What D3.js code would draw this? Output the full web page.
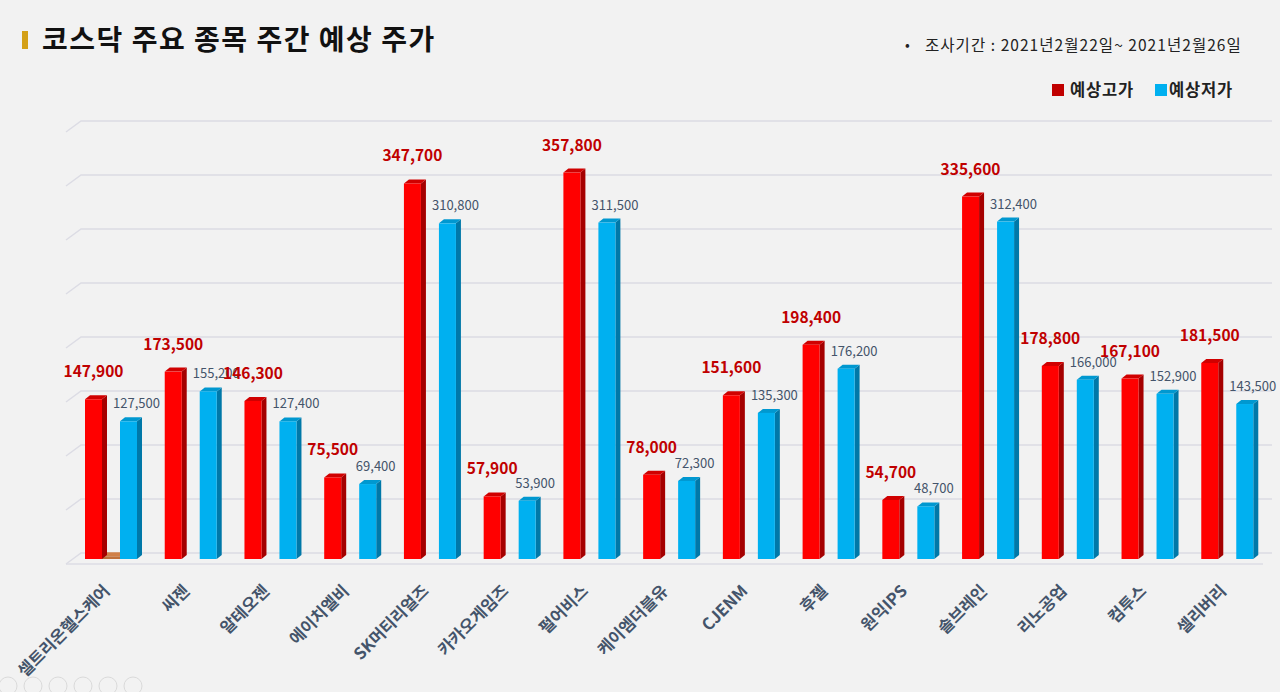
<!DOCTYPE html>
<html><head><meta charset="utf-8">
<script src="https://cdn.jsdelivr.net/npm/d3@7"></script>
<style>
html,body{margin:0;padding:0;background:#f2f2f2;}
svg{display:block;font-family:"Noto Sans CJK KR","Noto Sans",sans-serif;}
</style></head>
<body>
<svg id="chart" width="1280" height="692"></svg>
<script>
const categories = ["셀트리온헬스케어","씨젠","알테오젠","에이치엘비","SK머티리얼즈","카카오게임즈","펄어비스","케이엠더블유","CJENM","후젤","원익IPS","솔브레인","리노공업","컴투스","셀리버리"];
const highValues = [147900,173500,146300,75500,347700,57900,357800,78000,151600,198400,54700,335600,178800,167100,181500];
const lowValues  = [127500,155200,127400,69400,310800,53900,311500,72300,135300,176200,48700,312400,166000,152900,143500];
const extraValues = [2500,0,0,0,0,0,0,0,0,0,0,0,0,0,0];
const gridTicks = [0,50000,100000,150000,200000,250000,300000,350000,400000];
const seriesNames = ["예상고가","예상저가"];
const titleText = "코스닥 주요 종목 주간 예상 주가";
const periodText = "조사기간 : 2021년2월22일~ 2021년2월26일";

const svg = d3.select("#chart");
const fmt = d3.format(",");

svg.append("rect").attr("width",1280).attr("height",692).attr("fill","#f2f2f2");

// Title
svg.append("rect").attr("x",22).attr("y",31).attr("width",6).attr("height",18).attr("fill","#d4a017");
svg.append("text").attr("x",42).attr("y",50).attr("font-size",28).attr("font-weight","bold")
  .attr("fill","#111").attr("letter-spacing",1.5).text(titleText);

// Period
svg.append("text").attr("x",905).attr("y",50).attr("font-size",14).attr("fill","#222").text("•");
svg.append("text").attr("x",925).attr("y",51).attr("font-size",15.5).attr("letter-spacing",1.05).attr("fill","#222").text(periodText);

// Legend
const legend = [{name:seriesNames[0],color:"#c00000",x:1052,tx:1070},{name:seriesNames[1],color:"#00b0f0",x:1155,tx:1169}];
legend.forEach(l=>{
  svg.append("rect").attr("x",l.x).attr("y",84).attr("width",12).attr("height",12).attr("fill",l.color);
  svg.append("text").attr("x",l.tx).attr("y",96).attr("font-size",16.5).attr("letter-spacing",0.8).attr("font-weight","bold").attr("fill","#222").text(l.name);
});

// Scales
const x = d3.scaleBand().domain(categories).range([66,1262]).padding(0);
const y = d3.scaleLinear().domain([0,400000]).range([559,127]);
const depthX = 15, depthY = 11;

// Grid (back wall) lines
const grid = svg.append("g");
gridTicks.forEach(t=>{
  const yb = y(t) - 6;
  grid.append("path")
    .attr("d",`M${66},${yb+depthY} L${66+depthX},${yb} L1272,${yb}`)
    .attr("fill","none").attr("stroke","#dcdce4").attr("stroke-width",1.5);
});
// Front floor edge
grid.append("line").attr("x1",66).attr("x2",1263).attr("y1",y(0)+5).attr("y2",y(0)+5)
  .attr("stroke","#dcdce4").attr("stroke-width",1.5);

// 3D bars
const bw = 17, dx = 5, dy = 4;
function bar3d(g, x0, v, w, front, side, top){
  const yt = y(v), yb = y(0);
  g.append("path").attr("d",`M${x0+w},${yt} L${x0+w+dx},${yt-dy} L${x0+w+dx},${yb-dy} L${x0+w},${yb} Z`).attr("fill",side);
  g.append("path").attr("d",`M${x0},${yt} L${x0+dx},${yt-dy} L${x0+w+dx},${yt-dy} L${x0+w},${yt} Z`).attr("fill",top);
  g.append("rect").attr("x",x0).attr("y",yt).attr("width",w).attr("height",yb-yt).attr("fill",front);
}
const bars = svg.append("g");
categories.forEach((c,i)=>{
  const b = x(c);
  if (extraValues[i] > 0) bar3d(bars, b+36, extraValues[i], 18, "#c0703a", "#9a5a2e", "#d08048");
  bar3d(bars, b+19, highValues[i], bw, "#ff0000", "#a50000", "#d00000");
  bar3d(bars, b+54, lowValues[i], bw, "#00b0f0", "#0078a8", "#0098d0");
});

// Value labels: low first, then high on top
const labels = svg.append("g");
categories.forEach((c,i)=>{
  labels.append("text").attr("x",x(c)+54+bw/2+8).attr("y",y(lowValues[i])-13)
    .attr("text-anchor","middle").attr("font-size",13).attr("fill","#44546a").text(fmt(lowValues[i]));
});
categories.forEach((c,i)=>{
  labels.append("text").attr("x",x(c)+19+bw/2).attr("y",y(highValues[i])-22)
    .attr("text-anchor","middle").attr("font-size",15.5).attr("font-weight","bold").attr("fill","#c00000").text(fmt(highValues[i]));
});

// Category axis
const axis = svg.append("g")
  .call(d3.axisBottom(x).tickSize(0).tickPadding(0));
axis.select(".domain").remove();
axis.selectAll(".tick").attr("transform",d=>`translate(${x(d)+x.bandwidth()/2+5},592)`);
axis.selectAll(".tick text").attr("y",0).attr("dy","0").attr("text-anchor","end")
  .attr("transform","rotate(-45)").attr("font-size",16.5).attr("font-weight","bold")
  .attr("fill","#44546a").attr("font-family",'"Noto Sans CJK KR",sans-serif');

// Faint slideshow controls
const ctrl = svg.append("g").attr("opacity",0.22);
[0,1,2,3,4,5].forEach(k=>{
  ctrl.append("circle").attr("cx",8+k*25).attr("cy",686).attr("r",9).attr("fill","none").attr("stroke","#888").attr("stroke-width",1);
});
</script>
</body></html>
